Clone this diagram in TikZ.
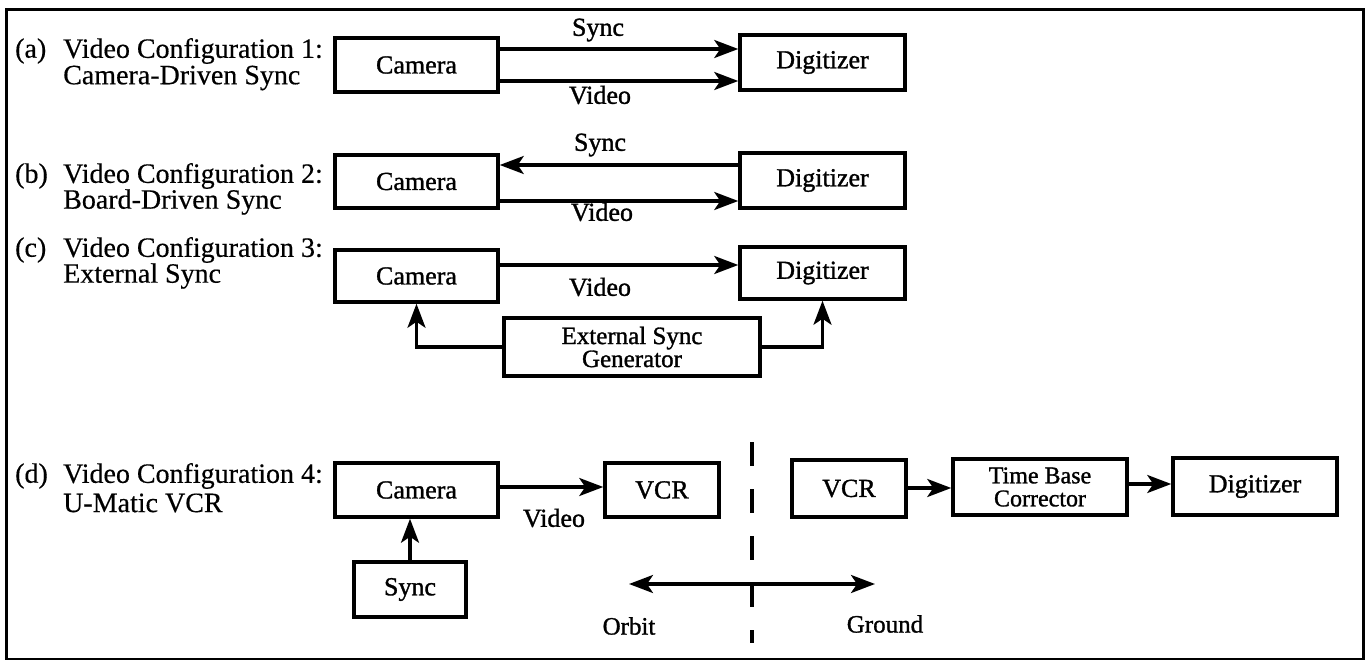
\documentclass[tikz,border=0pt]{standalone}
\usepackage{fontspec}
\setmainfont{Liberation Serif}
\newfontfamily\heavy{Liberation Serif}[FakeBold=1.2]
\newfontfamily\medium{Liberation Serif}[FakeBold=0.4]
\usetikzlibrary{arrows.meta}
\begin{document}
\begin{tikzpicture}[x=1pt,y=-1pt,
  blk/.style={draw,line width=3.5pt,inner sep=0pt,font=\heavy\fontsize{26}{20}\selectfont},
  lbl/.style={font=\medium\fontsize{28}{28}\selectfont,align=left,anchor=west,inner sep=0pt},
  sig/.style={font=\heavy\fontsize{26}{26}\selectfont,inner sep=0pt},
  con/.style={line width=3.2pt,-{Stealth[length=24pt,width=18pt,inset=6pt]}},
  con2/.style={line width=3.2pt,{Stealth[length=24pt,width=18pt,inset=6pt]}-{Stealth[length=24pt,width=18pt,inset=6pt]}},
  line cap=butt]
\useasboundingbox (0,0) rectangle (1367,660);
\node[draw,line width=3pt,minimum width=1357pt,minimum height=650pt,anchor=north west,inner sep=0pt] (frame) at (5,8) {};
% (a)
\node[lbl] (la1) at (15,51) {(a)};
\node[lbl] (la2) at (63,51) {Video Configuration 1:};
\node[lbl] (la3) at (63,78) {Camera-Driven Sync};
\node[blk,minimum width=163pt,minimum height=54pt] (cama) at (416.5,65) {Camera};
\node[blk,minimum width=165pt,minimum height=55pt] (diga) at (822.5,62.5) {Digitizer};
\draw[con] (cama.east |- 0,49) -- (diga.west |- 0,49);
\draw[con] (cama.east |- 0,81) -- (diga.west |- 0,81);
\node[sig] (sa) at (598,30) {Sync};
\node[sig] (va) at (600,95) {Video};
% (b)
\node[lbl] (lb1) at (15,176) {(b)};
\node[lbl] (lb2) at (63,176) {Video Configuration 2:};
\node[lbl] (lb3) at (63,202) {Board-Driven Sync};
\node[blk,minimum width=163pt,minimum height=53pt] (camb) at (416.5,181.5) {Camera};
\node[blk,minimum width=165pt,minimum height=55pt] (digb) at (822.5,180.5) {Digitizer};
\draw[con] (digb.west |- 0,165) -- (camb.east |- 0,165);
\draw[con] (camb.east |- 0,201) -- (digb.west |- 0,201);
\node[sig] (sb) at (600,145) {Sync};
\node[sig] (vb) at (602,212) {Video};
% (c)
\node[lbl] (lc1) at (15,250) {(c)};
\node[lbl] (lc2) at (63,250) {Video Configuration 3:};
\node[lbl] (lc3) at (63,276) {External Sync};
\node[blk,minimum width=163pt,minimum height=52pt] (camc) at (416.5,276) {Camera};
\node[blk,minimum width=165pt,minimum height=52pt] (digc) at (822.5,273) {Digitizer};
\draw[con] (camc.east |- 0,265) -- (digc.west |- 0,265);
\node[sig] (vc) at (600,287) {Video};
\node[blk,minimum width=256pt,minimum height=58pt,align=center,font=\heavy\fontsize{25}{23}\selectfont] (esg) at (632,347) {External Sync\\Generator};
\draw[con] (esg.west) -| (camc.south);
\draw[con] (esg.east) -| (digc.south);
% (d)
\node[lbl] (ld1) at (15,476) {(d)};
\node[lbl] (ld2) at (63,476) {Video Configuration 4:};
\node[lbl] (ld3) at (63,503) {U-Matic VCR};
\node[blk,minimum width=163pt,minimum height=54pt] (camd) at (416.5,490) {Camera};
\node[blk,minimum width=114pt,minimum height=54pt] (vcr1) at (662,490) {VCR};
\draw[con] (camd.east |- 0,487) -- (vcr1.west |- 0,487);
\node[sig] (vd) at (554,518) {Video};
\node[blk,minimum width=112pt,minimum height=55pt] (sync) at (410,589.5) {Sync};
\draw[con] (sync.north) -- (sync.north |- camd.south);
\node[blk,minimum width=114pt,minimum height=57pt] (vcr2) at (849,488.5) {VCR};
\node[blk,minimum width=174pt,minimum height=56pt,align=center,font=\heavy\fontsize{24}{23}\selectfont] (tbc) at (1040,487) {Time Base\\Corrector};
\node[blk,minimum width=164pt,minimum height=57pt] (digd) at (1255,486.5) {Digitizer};
\draw[con] (vcr2.east |- 0,488) -- (tbc.west |- 0,488);
\draw[con] (tbc.east |- 0,484) -- (digd.west |- 0,484);
\coordinate (dtop) at (752,442);
\coordinate (dbot) at (752,643);
\draw[line width=3.2pt,dash pattern=on 24pt off 23pt] (dtop) -- (dbot);
\coordinate (orl) at (629,584);
\coordinate (orr) at (875,584);
\draw[con2] (orl) -- (orr);
\node[sig,font=\heavy\fontsize{25}{25}\selectfont] (orbit) at (629,626) {Orbit};
\node[sig,font=\heavy\fontsize{25}{25}\selectfont] (ground) at (885,624) {Ground};
\end{tikzpicture}
\end{document}
